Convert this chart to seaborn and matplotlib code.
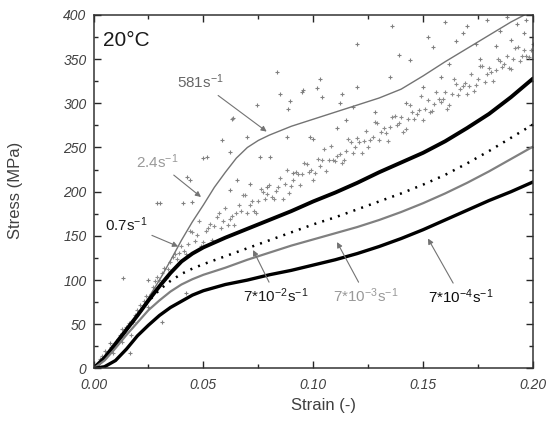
import pandas as pd
import matplotlib.pyplot as plt
import seaborn as sns

# strain grid shared by the four smooth curves
strain = [0.0, 0.005, 0.01, 0.015, 0.02, 0.025, 0.03, 0.035, 0.04, 0.045,
          0.05, 0.06, 0.07, 0.08, 0.09, 0.10, 0.11, 0.12, 0.13, 0.14,
          0.15, 0.16, 0.17, 0.18, 0.19, 0.20]

stress_7e4 = [0, 2, 9, 22, 37, 49, 60, 69, 76, 83, 88, 95, 100, 106, 111, 117,
              123, 130, 138, 147, 157, 168, 179, 190, 200, 211]
stress_7e3 = [0, 9, 23, 38, 52, 66, 77, 87, 95, 101, 106, 114, 123, 131, 139, 146,
              153, 160, 168, 177, 187, 198, 210, 223, 237, 251]
stress_7e2 = [0, 10, 27, 44, 60, 76, 89, 99, 107, 113, 118, 127, 136, 145, 154, 163,
              171, 180, 189, 198, 208, 219, 232, 246, 261, 276]
stress_07 = [0, 12, 28, 44, 60, 77, 93, 108, 121, 130, 137, 148, 158, 168, 178, 189,
             199, 210, 222, 233, 244, 257, 272, 288, 307, 328]

# 581 s^-1 fitted line
strain_581 = [0.0, 0.005, 0.01, 0.015, 0.02, 0.025, 0.03, 0.035, 0.04, 0.045,
              0.05, 0.055, 0.06, 0.065, 0.07, 0.075, 0.08, 0.09, 0.10, 0.11,
              0.12, 0.13, 0.14, 0.15, 0.16, 0.17, 0.18, 0.19, 0.20]
stress_581 = [0, 12, 25, 42, 60, 80, 100, 122, 145, 166, 185, 205, 222, 238, 250,
              258, 264, 274, 282, 290, 298, 306, 316, 331, 347, 362, 377, 392, 405]

# 581 s^-1 scattered measurement points
pts581_strain = [0.0834, 0.103, 0.085, 0.0947, 0.1016, 0.0743, 0.0885, 0.0629, 0.113,
                 0.0583, 0.0515, 0.0697, 0.0803, 0.0758, 0.0985, 0.0999, 0.0879,
                 0.0424, 0.0408, 0.0288, 0.0621, 0.0652, 0.0712, 0.0788, 0.0908,
                 0.111, 0.115, 0.136, 0.120, 0.152, 0.165, 0.174, 0.139, 0.1545,
                 0.120, 0.135, 0.144, 0.168, 0.185, 0.0955, 0.118, 0.104, 0.0894,
                 0.112, 0.1926, 0.197, 0.179, 0.0636, 0.062, 0.050, 0.044, 0.0447,
                 0.0303, 0.0136, 0.0248, 0.0075, 0.0166, 0.031, 0.042, 0.128, 0.142,
                 0.150, 0.158, 0.162, 0.176, 0.183, 0.190, 0.196, 0.188, 0.170, 0.160]
pts581_stress = [335, 328, 311, 313, 317, 298, 294, 282, 311,
                 258, 239, 262, 239, 239, 262, 260, 262,
                 217, 187, 187, 202, 213, 209, 205, 221,
                 272, 281, 388, 367, 375, 371, 367, 355, 364,
                 318, 330, 349, 379, 382, 315, 296, 307, 303,
                 300, 390, 394, 394, 283, 245, 238, 213, 188,
                 187, 102, 100, 29, 17, 53, 85, 290, 300,
                 318, 330, 345, 350, 365, 372, 380, 398, 388, 392]

# 2.4 s^-1 scatter band
band_strain = [0.002, 0.004, 0.006, 0.008, 0.010, 0.012, 0.014, 0.016, 0.018, 0.020,
               0.022, 0.024, 0.026, 0.028, 0.030, 0.032, 0.034, 0.036, 0.038,
               0.040, 0.042, 0.044, 0.046, 0.048, 0.050, 0.052, 0.054, 0.056, 0.058,
               0.060, 0.062, 0.064, 0.066, 0.068, 0.070, 0.072, 0.074, 0.076, 0.078,
               0.080, 0.082, 0.084, 0.086, 0.088, 0.090, 0.092, 0.094, 0.096, 0.098,
               0.100, 0.102, 0.104, 0.106, 0.108, 0.110, 0.112, 0.114, 0.116, 0.118,
               0.120, 0.122, 0.124, 0.126, 0.128, 0.130, 0.132, 0.134, 0.136, 0.138,
               0.140, 0.142, 0.144, 0.146, 0.148, 0.150, 0.152, 0.154, 0.156, 0.158,
               0.160, 0.162, 0.164, 0.166, 0.168, 0.170, 0.172, 0.174, 0.176, 0.178,
               0.180, 0.182, 0.184, 0.186, 0.188, 0.190, 0.192, 0.194, 0.196, 0.198,
               0.200,
               0.003, 0.007, 0.011, 0.015, 0.019, 0.023, 0.027, 0.031, 0.035, 0.039,
               0.043, 0.047, 0.051, 0.055, 0.059, 0.063, 0.067, 0.071, 0.075, 0.079,
               0.083, 0.087, 0.091, 0.095, 0.099, 0.103, 0.107, 0.111, 0.115, 0.119,
               0.123, 0.127, 0.131, 0.135, 0.139, 0.143, 0.147, 0.151, 0.155, 0.159,
               0.163, 0.167, 0.171, 0.175, 0.179, 0.183, 0.187, 0.191, 0.195, 0.199,
               0.041, 0.045, 0.049, 0.053, 0.057, 0.061, 0.065, 0.069, 0.073, 0.077,
               0.081, 0.085, 0.089, 0.093, 0.097, 0.101, 0.105, 0.109, 0.113, 0.117,
               0.121, 0.125, 0.129, 0.133, 0.137, 0.141, 0.145, 0.149, 0.153, 0.157,
               0.161, 0.165, 0.169, 0.173, 0.177, 0.181, 0.185, 0.189, 0.193, 0.197,
               0.005, 0.009, 0.013, 0.017, 0.021, 0.025, 0.029, 0.033, 0.037, 0.013]
band_stress = [5, 14, 16, 24, 27, 38, 40, 52, 53, 66,
               68, 82, 84, 99, 100, 114, 113, 126, 124,
               139, 129, 155, 144, 167, 143, 159, 145, 171, 159,
               181, 169, 162, 185, 196, 176, 190, 176, 203, 192,
               208, 192, 205, 192, 224, 207, 222, 208, 233, 222,
               213, 237, 236, 223, 252, 235, 243, 236, 260, 244,
               261, 244, 269, 258, 279, 258, 272, 257, 284, 275,
               285, 271, 298, 282, 292, 281, 304, 291, 313, 301,
               313, 298, 327, 309, 320, 310, 333, 321, 342, 324,
               340, 325, 350, 341, 354, 339, 363, 348, 360, 352,
               367,
               11, 20, 33, 47, 61, 76, 92, 108, 121, 131,
               141, 151, 155, 161, 167, 173, 178, 185, 190, 197,
               201, 209, 213, 220, 224, 229, 236, 240, 246, 251,
               257, 262, 267, 273, 278, 282, 288, 294, 299, 305,
               310, 316, 320, 327, 333, 338, 344, 350, 354, 360,
               133, 154, 138, 163, 176, 162, 176, 196, 178, 200,
               194, 216, 198, 220, 231, 221, 248, 236, 233, 256,
               256, 251, 278, 266, 286, 268, 290, 308, 290, 305,
               294, 322, 323, 314, 342, 335, 348, 340, 364, 353,
               20, 18, 45, 38, 72, 70, 104, 102, 130, 30]

sns.set_style("ticks")
plt.rcParams['font.family'] = ['Liberation Sans', 'DejaVu Sans']
plt.rcParams['mathtext.default'] = 'regular'

fig = plt.figure(figsize=(5.47, 4.33), dpi=100)
ax = fig.add_axes([0.171, 0.149, 0.8034, 0.8166])

sns.scatterplot(x=band_strain, y=band_stress, ax=ax, marker='+', s=12,
                color='0.55', linewidth=0.8)
sns.scatterplot(x=pts581_strain, y=pts581_stress, ax=ax, marker='+', s=10,
                color='0.5', linewidth=0.8)
sns.lineplot(x=strain_581, y=stress_581, ax=ax, color='0.45', linewidth=1.0)
sns.lineplot(x=strain, y=stress_07, ax=ax, color='black', linewidth=2.8)
sns.lineplot(x=strain, y=stress_7e2, ax=ax, color='black', linewidth=1.8,
             linestyle=(0, (0.8, 2.5)))
sns.lineplot(x=strain, y=stress_7e3, ax=ax, color='0.5', linewidth=1.6)
sns.lineplot(x=strain, y=stress_7e4, ax=ax, color='black', linewidth=2.4)

ax.set_xlim(0, 0.2)
ax.set_ylim(0, 400)
ax.set_xticks([0, 0.05, 0.10, 0.15, 0.20])
ax.set_xticks([0.025, 0.075, 0.125, 0.175], minor=True)
ax.set_yticks(range(0, 401, 50))
ax.set_yticks(range(25, 400, 50), minor=True)
ax.xaxis.set_major_formatter('{x:.2f}')
ax.tick_params(which='both', direction='in', top=True, right=True, width=1)
ax.tick_params(which='major', length=5, labelsize=10, labelcolor='0.25')
ax.tick_params(which='minor', length=3)
ax.tick_params(axis='x', which='major', pad=7)
ax.tick_params(axis='y', which='major', pad=5)
for lab in ax.get_xticklabels() + ax.get_yticklabels():
    lab.set_fontstyle('italic')
for sp in ax.spines.values():
    sp.set_linewidth(1.1)
    sp.set_color('0.2')

ax.set_xlabel("Strain (-)", fontsize=12, color='0.25')
ax.set_ylabel("Stress (MPa)", fontsize=12, color='0.25')
ax.xaxis.set_label_coords(0.524, -0.083)
ax.yaxis.set_label_coords(-0.160, 0.505)

ax.text(0.0043, 365, "20°C", fontsize=15, va='baseline', color='0.1')

arrow_kw = dict(arrowstyle='-|>', color='0.45', lw=0.8, mutation_scale=8,
                shrinkA=1, shrinkB=0)
ax.annotate(r"581s$^{-1}$", xy=(0.0788, 268), xytext=(0.0485, 324),
            ha='center', va='center', fontsize=11, color='0.4', arrowprops=arrow_kw)
ax.annotate(r"2.4s$^{-1}$", xy=(0.0489, 194), xytext=(0.0289, 234),
            ha='center', va='center', fontsize=11, color='0.6', arrowprops=arrow_kw)
ax.annotate(r"0.7s$^{-1}$", xy=(0.0385, 138), xytext=(0.0148, 163),
            ha='center', va='center', fontsize=11, color='0.1', arrowprops=arrow_kw)
ax.annotate(r"7*10$^{-2}$s$^{-1}$", xy=(0.0726, 134), xytext=(0.0830, 82),
            ha='center', va='center', fontsize=11, color='0.1', arrowprops=arrow_kw)
ax.annotate(r"7*10$^{-3}$s$^{-1}$", xy=(0.1108, 143), xytext=(0.124, 82),
            ha='center', va='center', fontsize=11, color='0.6', arrowprops=arrow_kw)
ax.annotate(r"7*10$^{-4}$s$^{-1}$", xy=(0.1522, 147), xytext=(0.1672, 81),
            ha='center', va='center', fontsize=11, color='0.05', arrowprops=arrow_kw)

fig.savefig("out.png", dpi=100)
plt.close(fig)
